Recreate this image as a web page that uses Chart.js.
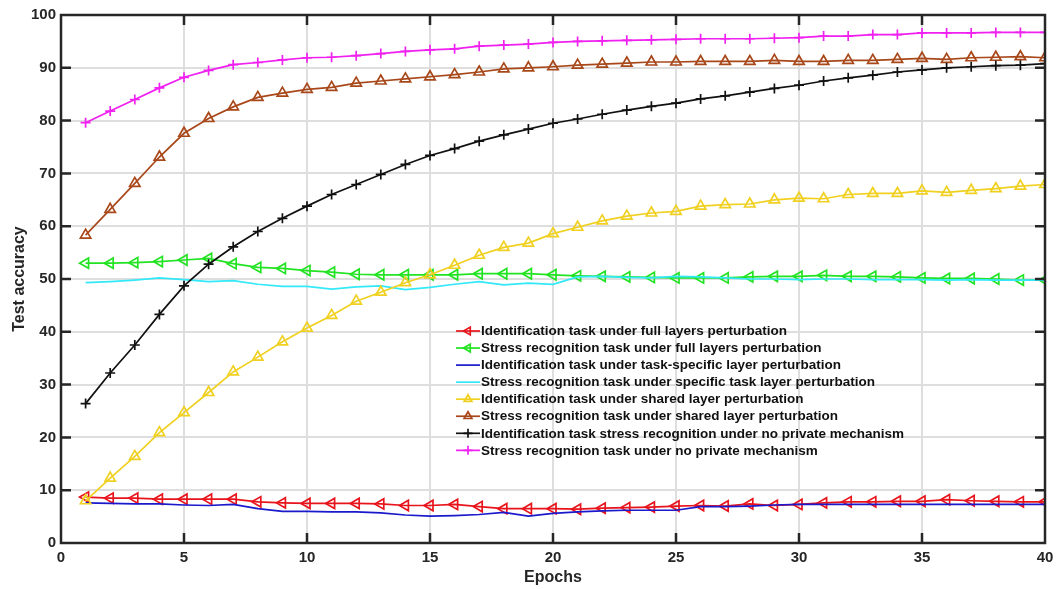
<!DOCTYPE html>
<html>
<head>
<meta charset="utf-8">
<script src="https://cdn.jsdelivr.net/npm/chart.js@4.4.1/dist/chart.umd.min.js"></script>
<style>
  html, body { margin: 0; padding: 0; background: #fff; }
  #wrap { width: 1056px; height: 589px; }
</style>
</head>
<body>
<div id="wrap"><canvas id="accChart" width="1056" height="589"></canvas></div>
<script>
const epochs = [1,2,3,4,5,6,7,8,9,10,11,12,13,14,15,16,17,18,19,20,
                21,22,23,24,25,26,27,28,29,30,31,32,33,34,35,36,37,38,39,40];

const idFull = [8.7,8.5,8.5,8.3,8.3,8.3,8.3,7.8,7.6,7.5,7.5,7.5,7.4,7.1,7.1,7.3,6.9,6.5,6.5,6.5,
                6.4,6.6,6.7,6.8,7.0,7.1,7.0,7.4,7.1,7.3,7.6,7.8,7.8,7.9,7.9,8.2,8.0,7.9,7.8,7.8];
const stressFull = [53.0,53.0,53.1,53.3,53.6,53.9,52.9,52.2,52.0,51.6,51.3,50.9,50.8,50.8,50.8,50.8,51.0,51.0,51.0,50.8,
                    50.6,50.5,50.4,50.3,50.2,50.2,50.2,50.4,50.5,50.5,50.7,50.5,50.5,50.4,50.2,50.1,50.1,50.0,49.8,49.8];
const idSpecific = [7.6,7.5,7.4,7.4,7.2,7.1,7.3,6.5,6.0,6.0,5.9,5.9,5.7,5.3,5.1,5.2,5.4,5.8,5.1,5.6,
                    5.9,6.1,6.2,6.2,6.2,6.9,6.9,7.0,7.2,7.3,7.3,7.3,7.3,7.3,7.3,7.3,7.3,7.3,7.3,7.3];
const stressSpecific = [49.3,49.5,49.8,50.2,49.9,49.5,49.7,49.0,48.6,48.6,48.1,48.5,48.7,48.0,48.4,49.0,49.5,48.9,49.2,49.0,
                        50.4,50.5,50.3,50.2,50.5,50.4,50.2,50.0,50.0,49.9,50.0,50.0,49.9,49.9,49.9,49.8,49.9,49.8,49.8,49.8];
const idShared = [8.0,12.3,16.4,20.9,24.7,28.5,32.4,35.2,38.1,40.7,43.1,45.8,47.5,49.3,50.8,52.6,54.5,56.0,56.8,58.6,
                  59.8,61.0,61.9,62.5,62.8,63.8,64.1,64.2,65.0,65.3,65.2,66.0,66.2,66.2,66.7,66.4,66.8,67.1,67.6,67.9];
const stressShared = [58.3,63.2,68.1,73.1,77.6,80.4,82.6,84.4,85.2,85.9,86.3,87.1,87.5,87.9,88.3,88.7,89.2,89.8,90.0,90.2,
                      90.5,90.7,90.9,91.1,91.1,91.2,91.2,91.2,91.4,91.2,91.2,91.4,91.4,91.6,91.8,91.6,91.9,92.0,92.1,91.9];
const idNoPrivate = [26.4,32.2,37.5,43.3,48.7,52.8,56.1,59.0,61.5,63.8,66.0,67.9,69.8,71.7,73.4,74.7,76.1,77.3,78.4,79.5,
                     80.3,81.2,82.0,82.7,83.3,84.1,84.7,85.4,86.1,86.7,87.5,88.1,88.6,89.2,89.6,90.0,90.2,90.4,90.5,90.8];
const stressNoPrivate = [79.6,81.8,84.0,86.2,88.2,89.5,90.6,91.0,91.5,91.9,92.0,92.3,92.7,93.1,93.4,93.6,94.1,94.3,94.5,94.8,
                         95.0,95.1,95.2,95.3,95.4,95.5,95.5,95.5,95.6,95.7,96.0,96.0,96.3,96.3,96.6,96.6,96.6,96.7,96.7,96.7];

const legendLabels = [
  "Identification task under full layers perturbation",
  "Stress recognition task under full layers perturbation",
  "Identification task under task-specific layer perturbation",
  "Stress recognition task under specific task layer perturbation",
  "Identification task under shared layer perturbation",
  "Stress recognition task under shared layer perturbation",
  "Identification task stress recognition under no private mechanism",
  "Stress recognition task under no private mechanism"
];
const xTicks = [0, 5, 10, 15, 20, 25, 30, 35, 40];
const yTicks = [0, 10, 20, 30, 40, 50, 60, 70, 80, 90, 100];

const FONT = "'Liberation Sans', Arial, Helvetica, sans-serif";
const AXIS = "#262626";

function series(label, values, color, marker, rotation) {
  return {
    label,
    data: epochs.map((e, i) => ({ x: e, y: values[i] })),
    borderColor: color,
    backgroundColor: color,
    borderWidth: 1.7,
    pointStyle: marker || false,
    pointRotation: rotation || 0,
    pointRadius: marker ? (marker === "cross" ? 5 : 6) : 0,
    pointBorderWidth: 1.7,
    pointBorderColor: color,
    pointBackgroundColor: "rgba(0,0,0,0)",
    tension: 0
  };
}

const datasets = [
  series(legendLabels[0], idFull, "#e8141c", "triangle", -90),
  series(legendLabels[1], stressFull, "#22e322", "triangle", -90),
  series(legendLabels[2], idSpecific, "#1a1acc", null),
  series(legendLabels[3], stressSpecific, "#33e8f8", null),
  series(legendLabels[4], idShared, "#f0d020", "triangle", 0),
  series(legendLabels[5], stressShared, "#a8481a", "triangle", 0),
  series(legendLabels[6], idNoPrivate, "#111111", "cross", 0),
  series(legendLabels[7], stressNoPrivate, "#f020f0", "cross", 0)
];
// MATLAB draws later series on top
datasets.forEach((d, i) => { d.order = datasets.length - i; });

function drawMarker(ctx, style, rot, x, y, r) {
  ctx.beginPath();
  if (style === "cross") {
    ctx.moveTo(x - r, y); ctx.lineTo(x + r, y);
    ctx.moveTo(x, y - r); ctx.lineTo(x, y + r);
  } else {
    const a0 = (rot - 90) * Math.PI / 180;
    for (let k = 0; k < 3; k++) {
      const a = a0 + k * 2 * Math.PI / 3;
      const px = x + r * Math.cos(a), py = y + r * Math.sin(a);
      if (k === 0) ctx.moveTo(px, py); else ctx.lineTo(px, py);
    }
    ctx.closePath();
  }
  ctx.stroke();
}

// box, inward ticks and the in-axes legend
const matlabAxes = {
  id: "matlabAxes",
  afterDatasetsDraw(chart) {
    const { ctx, chartArea: a, scales } = chart;
    ctx.save();
    ctx.strokeStyle = AXIS;
    ctx.lineWidth = 2.5;
    const tl = 10;
    ctx.beginPath();
    scales.x.ticks.forEach(t => {
      const px = scales.x.getPixelForValue(t.value);
      if (px <= a.left + 1 || px >= a.right - 1) return;
      ctx.moveTo(px, a.bottom); ctx.lineTo(px, a.bottom - tl);
      ctx.moveTo(px, a.top); ctx.lineTo(px, a.top + tl);
    });
    scales.y.ticks.forEach(t => {
      const py = scales.y.getPixelForValue(t.value);
      if (py <= a.top + 1 || py >= a.bottom - 1) return;
      ctx.moveTo(a.left, py); ctx.lineTo(a.left + tl, py);
      ctx.moveTo(a.right, py); ctx.lineTo(a.right - tl, py);
    });
    ctx.stroke();
    ctx.strokeRect(a.left, a.top, a.right - a.left, a.bottom - a.top);

    // legend
    const lx = 456, ly = 331, dy = 17.05;
    ctx.font = "bold 13.5px " + FONT;
    ctx.textBaseline = "middle";
    chart.data.datasets.forEach((d, i) => {
      const y = ly + i * dy;
      ctx.strokeStyle = d.borderColor;
      ctx.lineWidth = 1.7;
      ctx.beginPath(); ctx.moveTo(lx, y); ctx.lineTo(lx + 24, y); ctx.stroke();
      if (d.pointStyle) drawMarker(ctx, d.pointStyle, d.pointRotation, lx + 12, y, 4.5);
      ctx.fillStyle = "#111";
      ctx.fillText(d.label, lx + 25, y + 0.5);
    });
    ctx.restore();
  }
};

new Chart(document.getElementById("accChart"), {
  type: "line",
  data: { datasets },
  plugins: [matlabAxes],
  options: {
    responsive: false,
    devicePixelRatio: 1,
    animation: false,
    layout: { padding: { top: 15, right: 11, left: 0, bottom: 0 } },
    plugins: { legend: { display: false }, tooltip: { enabled: false } },
    scales: {
      x: {
        type: "linear",
        min: 0, max: 40,
        afterBuildTicks: s => { s.ticks = xTicks.map(v => ({ value: v })); },
        afterFit: s => { s.height = 46; s.paddingLeft = 0; s.paddingRight = 0; },
        grid: { color: "#dedede", lineWidth: 2, drawTicks: false },
        border: { display: false },
        ticks: { color: AXIS, padding: 6, font: { family: FONT, size: 15, weight: "bold" } },
        title: { display: true, text: "Epochs", color: AXIS, padding: { top: 0, bottom: 2 },
                 font: { family: FONT, size: 16, weight: "bold" } }
      },
      y: {
        min: 0, max: 100,
        afterBuildTicks: s => { s.ticks = yTicks.map(v => ({ value: v })); },
        afterFit: s => { s.width = 61; s.paddingTop = 0; s.paddingBottom = 0; },
        grid: { color: "#dedede", lineWidth: 2, drawTicks: false },
        border: { display: false },
        ticks: { color: AXIS, padding: 5, font: { family: FONT, size: 15, weight: "bold" } },
        title: { display: true, text: "Test accuracy", color: AXIS, padding: { top: 10, bottom: 0 },
                 font: { family: FONT, size: 16, weight: "bold" } }
      }
    }
  }
});
</script>
</body>
</html>
